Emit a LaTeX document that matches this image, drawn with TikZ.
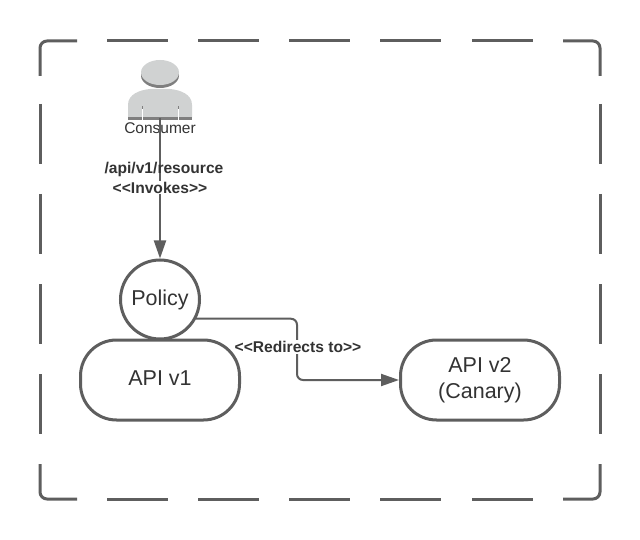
\documentclass[tikz,border=0pt]{standalone}
\usepackage{fontspec}
\setmainfont{Liberation Sans}
\usetikzlibrary{arrows.meta}
\definecolor{ink}{HTML}{5E5E5E}
\definecolor{txt}{HTML}{333333}
\definecolor{pers}{HTML}{D0D2D2}
\definecolor{persd}{HTML}{7F7F7F}
\tikzset{
  x=1pt,y=-1pt,
  frameline/.style={draw=ink,line width=3pt,rounded corners=7pt},
  pill/.style={draw=ink,line width=3pt,rounded corners=36pt,fill=white},
  circ/.style={draw=ink,line width=3pt,fill=white,circle,minimum size=79pt,inner sep=0pt},
  big/.style={text=txt,font=\fontsize{21.5}{26}\selectfont,align=center},
  lab/.style={text=txt,font=\fontsize{15.6}{18}\selectfont\bfseries,align=center},
  conn/.style={draw=ink,line width=2pt,-{Triangle[length=18pt,width=12pt]}},
}
\newcommand{\ltlt}{\textless\kern0pt\textless}
\newcommand{\gtgt}{\textgreater\kern0pt\textgreater}
\begin{document}
\begin{tikzpicture}
\useasboundingbox (0,0) rectangle (640,540);
\fill[white] (0,0) rectangle (640,540);
% dashed frame
\draw[frameline]
  (40,76) -- (40,41) -- (77,41)
  (563,41) -- (600,41) -- (600,76)
  (40,464) -- (40,499) -- (77,499)
  (563,499) -- (600,499) -- (600,464);
\foreach \a in {107,198,289,380,472}{
  \draw[draw=ink,line width=3pt] (\a,41) -- ++(61,0) (\a,499) -- ++(61,0);
}
\foreach \b in {104,194,284,374}{
  \draw[draw=ink,line width=3pt] (40,\b) -- ++(0,60) (600,\b) -- ++(0,60);
}
% person
\fill[persd] (128,117) rectangle (192,120);
\fill[pers] (128,117.5) -- (128,105) .. controls (128,94) and (140,90) .. (150,89) -- (170,89) .. controls (180,90) and (192,94) .. (192,105) -- (192,117.5) -- cycle;
\fill[persd] (128,117) rectangle (192,120);
\fill[white] (141.5,107) rectangle (143,120);
\fill[white] (177.5,107) rectangle (179,120);
\fill[persd] (141.5,106) rectangle (143,109);
\fill[persd] (177.5,106) rectangle (179,109);
\fill[persd] (160,75.5) ellipse [x radius=19, y radius=12.5];
\fill[pers] (160,72.5) ellipse [x radius=19, y radius=12.5];
\coordinate (consumer) at (160,118);
\node[text=txt,font=\fontsize{15.5}{18}\selectfont,inner sep=0pt] (conlabel) at (160,128) {Consumer};
% nodes
\node[pill,minimum width=159pt,minimum height=80pt,inner sep=0pt,big,text depth=4pt] (v1) at (160,380) {API v1};
\node[circ,big] (policy) at (160,299.5) {Policy};
\node[pill,minimum width=159pt,minimum height=80pt,inner sep=0pt,big] (v2) at (480,380) {API v2\\(Canary)};
% connectors
\coordinate (elbow) at (297,380);
\draw[conn] (consumer) -- (policy.north);
\node[lab,inner sep=0pt] (resource) at (164,169) {/api/v1/resource};
\node[lab,fill=white,inner sep=1pt] (invokes) at (160,187.5) {\ltlt Invokes\gtgt};
\draw[conn,rounded corners=6pt] (policy.-28) -| (elbow) -- (v2.west);
\node[lab,fill=white,inner sep=1pt] (redir) at (298,347) {\ltlt Redirects to\gtgt};
\end{tikzpicture}
\end{document}
